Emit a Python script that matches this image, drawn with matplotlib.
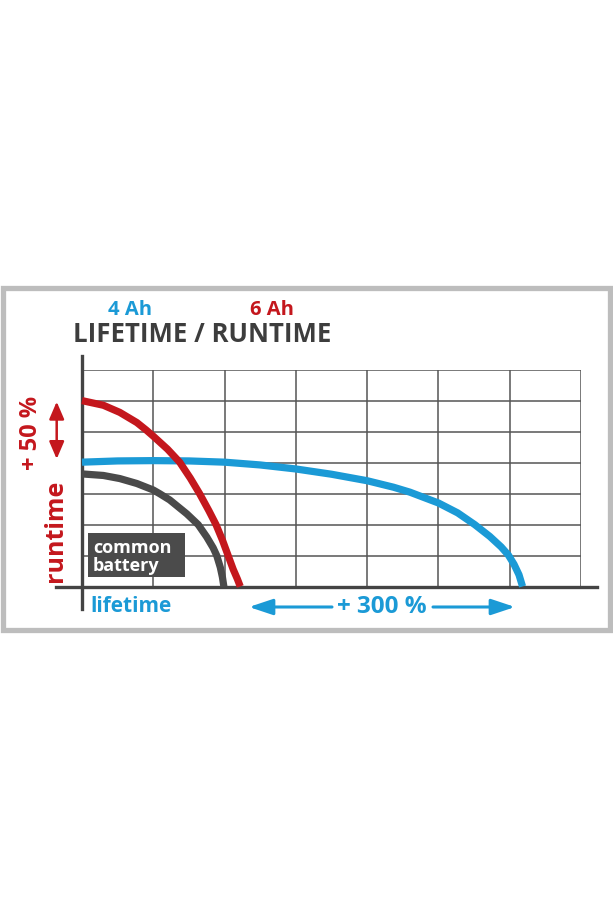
import matplotlib
matplotlib.use('Agg')
import matplotlib.pyplot as plt
from matplotlib.patches import Rectangle, ArrowStyle

# curve points (x in grid columns, y in grid rows)
red_x = [0, 0.30, 0.53, 0.77, 0.90, 1.00, 1.20, 1.37, 1.52, 1.65, 1.78, 1.88, 1.97, 2.05, 2.12, 2.18, 2.22]
red_y = [6.01, 5.86, 5.63, 5.30, 5.06, 4.86, 4.44, 4.02, 3.50, 3.00, 2.45, 2.00, 1.50, 1.00, 0.56, 0.24, 0]

gray_x = [0, 0.30, 0.53, 0.77, 1.00, 1.09, 1.23, 1.47, 1.63, 1.75, 1.84, 1.89, 1.94, 1.97, 1.99]
gray_y = [3.64, 3.59, 3.49, 3.33, 3.12, 3.00, 2.80, 2.35, 2.00, 1.60, 1.25, 1.00, 0.62, 0.30, 0]

blue_x = [0, 0.5, 1.0, 1.5, 2.0, 2.5, 3.0, 3.5, 4.0, 4.37, 4.60, 5.00, 5.27, 5.51, 5.72, 5.88, 5.98, 6.06, 6.13, 6.18]
blue_y = [4.02, 4.06, 4.07, 4.06, 4.02, 3.93, 3.80, 3.63, 3.42, 3.21, 3.05, 2.70, 2.38, 2.00, 1.62, 1.28, 1.02, 0.72, 0.38, 0]

n_cols = 7
n_rows = 7

BLUE = '#1b9ad6'
RED = '#c4171d'
DARK = '#444444'
W, H = 613, 920


def fx(px):
    return px / W


def fy(py):
    return 1 - py / H


plt.rcParams['font.family'] = ['Open Sans', 'DejaVu Sans']

fig = plt.figure(figsize=(W / 100, H / 100), dpi=100)
fig.patch.set_facecolor('white')

# outer frame
fig.patches.append(Rectangle((fx(2.5), fy(631)), fx(607.5), (631 - 289) / H,
                             transform=fig.transFigure, fill=False,
                             ec='#bdbdbd', lw=3.8))

ax = fig.add_axes([fx(82), fy(587.5), fx(499), 216.5 / H])
ax.set_xlim(0, n_cols)
ax.set_ylim(0, n_rows)
ax.set_xticks(range(n_cols + 1))
ax.set_yticks(range(n_rows + 1))
ax.tick_params(length=0, labelbottom=False, labelleft=False)
for s in ax.spines.values():
    s.set_visible(False)
ax.grid(True, color='#555555', lw=1.1)
ax.set_axisbelow(True)

# axis lines
ax.axhline(0, xmin=-0.052, xmax=1.032, color=DARK, lw=2.4, clip_on=False, zorder=3)
ax.axvline(0, ymin=-0.105, ymax=1.065, color=DARK, lw=2.4, clip_on=False, zorder=3)

lw = 5.2
style = dict(lw=lw, solid_capstyle='butt', solid_joinstyle='round', clip_on=False)
ax.plot(gray_x, gray_y, color='#4a4a4a', zorder=4, **style)
ax.plot(blue_x, blue_y, color=BLUE, zorder=5, **style)
ax.plot(red_x, red_y, color=RED, zorder=6, **style)

# titles
fig.text(fx(130), fy(310), '4 Ah', color=BLUE, fontsize=14.5, fontweight='bold',
         ha='center', va='center')
fig.text(fx(272), fy(310), '6 Ah', color=RED, fontsize=14.5, fontweight='bold',
         ha='center', va='center')
fig.text(fx(73), fy(335), 'LIFETIME / RUNTIME', color='#3d3d3d', fontsize=18.5,
         fontweight='bold', ha='left', va='center')

# left labels
fig.text(fx(31), fy(433), '+ 50 %', color=RED, fontsize=17, fontweight='bold',
         rotation=90, ha='center', va='center')
fig.text(fx(56), fy(531), 'runtime', color=RED, fontsize=18, fontweight='bold',
         rotation=90, ha='center', va='center')
ax.annotate('', xy=(fx(56.7), fy(402.7)), xytext=(fx(56.7), fy(460)),
            xycoords='figure fraction', textcoords='figure fraction',
            arrowprops=dict(arrowstyle=ArrowStyle('<|-|>', head_length=0.7, head_width=0.3),
                            mutation_scale=15, color=RED, lw=1.8, shrinkA=0, shrinkB=0))

# common battery box
fig.patches.append(Rectangle((fx(88.3), fy(578.3)), fx(185 - 88.3), (578.3 - 534.3) / H,
                             transform=fig.transFigure, fc='#4b4b4b', ec='none', zorder=7))
fig.text(fx(93), fy(548), 'common', color='white', fontsize=13, fontweight='bold',
         ha='left', va='center', zorder=8)
fig.text(fx(93), fy(566), 'battery', color='white', fontsize=13, fontweight='bold',
         ha='left', va='center', zorder=8)

# bottom labels
fig.text(fx(90), fy(607), 'lifetime', color=BLUE, fontsize=15, fontweight='bold',
         ha='left', va='center')
fig.text(fx(382), fy(607), '+ 300 %', color=BLUE, fontsize=17.5, fontweight='bold',
         ha='center', va='center')
head = ArrowStyle('-|>', head_length=0.72, head_width=0.24)
ax.annotate('', xy=(fx(249), fy(608)), xytext=(fx(332), fy(608)),
            xycoords='figure fraction', textcoords='figure fraction',
            arrowprops=dict(arrowstyle=head, mutation_scale=20, color=BLUE, lw=2.2,
                            shrinkA=0, shrinkB=0))
ax.annotate('', xy=(fx(515), fy(608)), xytext=(fx(433), fy(608)),
            xycoords='figure fraction', textcoords='figure fraction',
            arrowprops=dict(arrowstyle=head, mutation_scale=20, color=BLUE, lw=2.2,
                            shrinkA=0, shrinkB=0))

fig.savefig('out.png', dpi=100)
